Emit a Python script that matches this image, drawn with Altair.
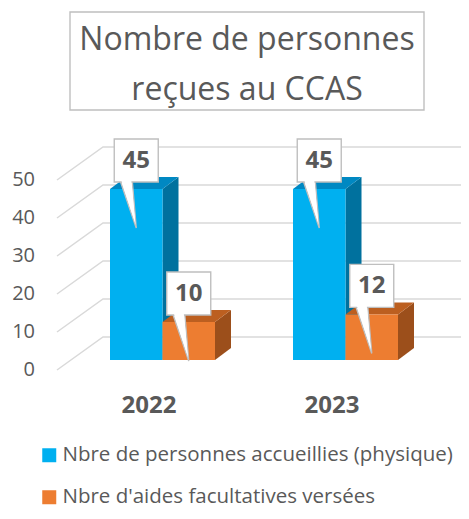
import altair as alt
import pandas as pd

# ---- data ----
years = ["2022", "2023"]
series = ["Nbre de personnes accueillies (physique)", "Nbre d'aides facultatives versées"]
accueillies = [45, 45]
aides = [10, 12]
grid_values = [0, 10, 20, 30, 40, 50]

# ---- style / layout constants ----
STEP = 183.0      # x units per category
OFF = 39.0        # outer padding before first group
BARW = 52.5       # bar width (x units)
PXY = 50 / 190    # y units per pixel
DX, DY = 16.0, 12 * PXY       # bar depth
FDX, FDY = -14.0, -10 * PXY   # front plane offset
BDX, BDY = 32.0, 23 * PXY     # back wall offset
GRID_END = 420.0

BLUE, BLUE_SIDE, BLUE_TOP = "#00B0F0", "#00719E", "#0088C2"
ORANGE, ORANGE_SIDE, ORANGE_TOP = "#ED7D31", "#9C4F1B", "#BC5F20"
TXT = "#595959"
FONT = "Open Sans"

rows = []
for g, yr in enumerate(years):
    for s, (name, vals) in enumerate(zip(series, [accueillies, aides])):
        xl = g * STEP + OFF + s * BARW
        rows.append(dict(year=yr, series=name, s=s, value=float(vals[g]),
                         xl=xl, xr=xl + BARW, xc=xl + BARW / 2))
bars = pd.DataFrame(rows)

side_rows, top_rows = [], []
for r in rows:
    pid = f"{r['year']}-{r['s']}"
    v = r["value"]
    xl, xr, s = r["xl"], r["xr"], r["s"]
    side_rows += [dict(pid=pid, ser=s, fx=xr, lo=0.0, hi=v),
                  dict(pid=pid, ser=s, fx=xr + DX, lo=DY, hi=v + DY)]
    top_rows += [dict(pid=pid, ser=s, fx=xl, lo=v, hi=v),
                 dict(pid=pid, ser=s, fx=xl + DX, lo=v, hi=v + DY),
                 dict(pid=pid, ser=s, fx=xr, lo=v, hi=v + DY),
                 dict(pid=pid, ser=s, fx=xr + DX, lo=v + DY, hi=v + DY)]

grid_rows = []
for v in grid_values:
    grid_rows += [dict(gv=v, fx=FDX, fy=v + FDY),
                  dict(gv=v, fx=BDX, fy=v + BDY),
                  dict(gv=v, fx=GRID_END, fy=v + BDY)]
grid = pd.DataFrame(grid_rows)
ylab = pd.DataFrame(dict(gv=grid_values, fx=[FDX - 22] * len(grid_values),
                         fy=[v + FDY for v in grid_values], t=[str(v) for v in grid_values]))
xlab = bars[bars.s == 0][["year", "xr"]].copy()

X = alt.Scale(domain=[0, 2 * STEP], nice=False, zero=False)
Y = alt.Scale(domain=[0, 50], nice=False, zero=False)

def xq(f): return alt.X(f, type="quantitative", scale=X, axis=None)
def yq(f): return alt.Y(f, type="quantitative", scale=Y, axis=None, stack=None)

gridlines = alt.Chart(grid).mark_line(color="#D9D9D9", strokeWidth=1.5).encode(
    x=xq("fx"), y=yq("fy"), detail="gv:N")

ylabels = alt.Chart(ylab).mark_text(align="right", baseline="middle", font=FONT,
                                    fontSize=20, color=TXT).encode(
    x=xq("fx"), y=yq("fy"), text="t:N")

def face(rowlist, s, color):
    df = pd.DataFrame([r for r in rowlist if r["ser"] == s])
    return alt.Chart(df).mark_area(color=color, opacity=1, interpolate="linear").encode(
        x=xq("fx"), y=yq("lo"), y2=alt.Y2("hi"), detail="pid:N")

front = alt.Chart(bars).mark_rect(opacity=1).encode(
    x=xq("xl"), x2="xr:Q", y=alt.Y("zero:Q", scale=Y, axis=None), y2="value:Q",
    color=alt.Color("series:N", scale=alt.Scale(domain=series, range=[BLUE, ORANGE]),
                    legend=alt.Legend(title=None, orient="none", legendX=-32, legendY=275,
                                      direction="vertical", symbolType="square",
                                      symbolSize=196, symbolStrokeWidth=0,
                                      labelFont=FONT, labelFontSize=20.5, labelColor=TXT,
                                      labelOffset=3, rowPadding=21, labelLimit=600,
                                      padding=0))
).transform_calculate(zero="0")

TAIL = "M -16 -8 L -4 -8 L 0 39 Z"
BOX = "M -22 -50 L 22 -50 L 22 -7 L -22 -7 Z"
COVER = "M -15 -9 L -5 -9 L -0.6 36 Z"

def callout(path, stroke=True):
    kw = dict(stroke="#BFBFBF", strokeWidth=1.4) if stroke else dict(strokeWidth=0)
    return alt.Chart(bars).mark_point(shape=path, size=4, filled=True, fill="white",
                                      opacity=1, **kw).encode(x=xq("xc"), y=yq("value"))

labels = alt.Chart(bars).mark_text(font=FONT, fontSize=24, fontWeight="bold", color=TXT,
                                   baseline="middle", dy=-28.5).encode(
    x=xq("xc"), y=yq("value"), text="value:Q")

xlabels = alt.Chart(xlab).mark_text(font=FONT, fontSize=24, fontWeight="bold", color=TXT,
                                    baseline="middle", dx=-13.5, dy=46).encode(
    x=xq("xr"), y=alt.Y("zero:Q", scale=Y, axis=None), text="year:N").transform_calculate(zero="0")

one = pd.DataFrame({"a": [0]})
title_box = alt.Chart(one).mark_rect(fill="white", stroke="#BFBFBF", strokeWidth=1.4).encode(
    x=alt.value(-1), x2=alt.value(353), y=alt.value(-158), y2=alt.value(-60))
title1 = alt.Chart(one).mark_text(font=FONT, fontSize=32, color=TXT, align="center",
                                  baseline="alphabetic").encode(
    x=alt.value(176), y=alt.value(-120), text=alt.value("Nombre de personnes"))
title2 = alt.Chart(one).mark_text(font=FONT, fontSize=32, color=TXT, align="center",
                                  baseline="alphabetic").encode(
    x=alt.value(176), y=alt.value(-70), text=alt.value("reçues au CCAS"))

chart = alt.layer(
    gridlines, ylabels,
    face(side_rows, 0, BLUE_SIDE), face(top_rows, 0, BLUE_TOP),
    face(side_rows, 1, ORANGE_SIDE), face(top_rows, 1, ORANGE_TOP),
    front,
    callout(TAIL), callout(BOX), callout(COVER, stroke=False),
    labels, xlabels, title_box, title1, title2,
).properties(
    width=2 * STEP, height=190,
    autosize=alt.AutoSizeParams(type="none"),
    padding={"left": 63, "top": 162, "right": 24, "bottom": 151},
    background="white",
).configure_view(stroke=None)

chart.save("out.html", embed_options={"renderer": "svg", "actions": False})
